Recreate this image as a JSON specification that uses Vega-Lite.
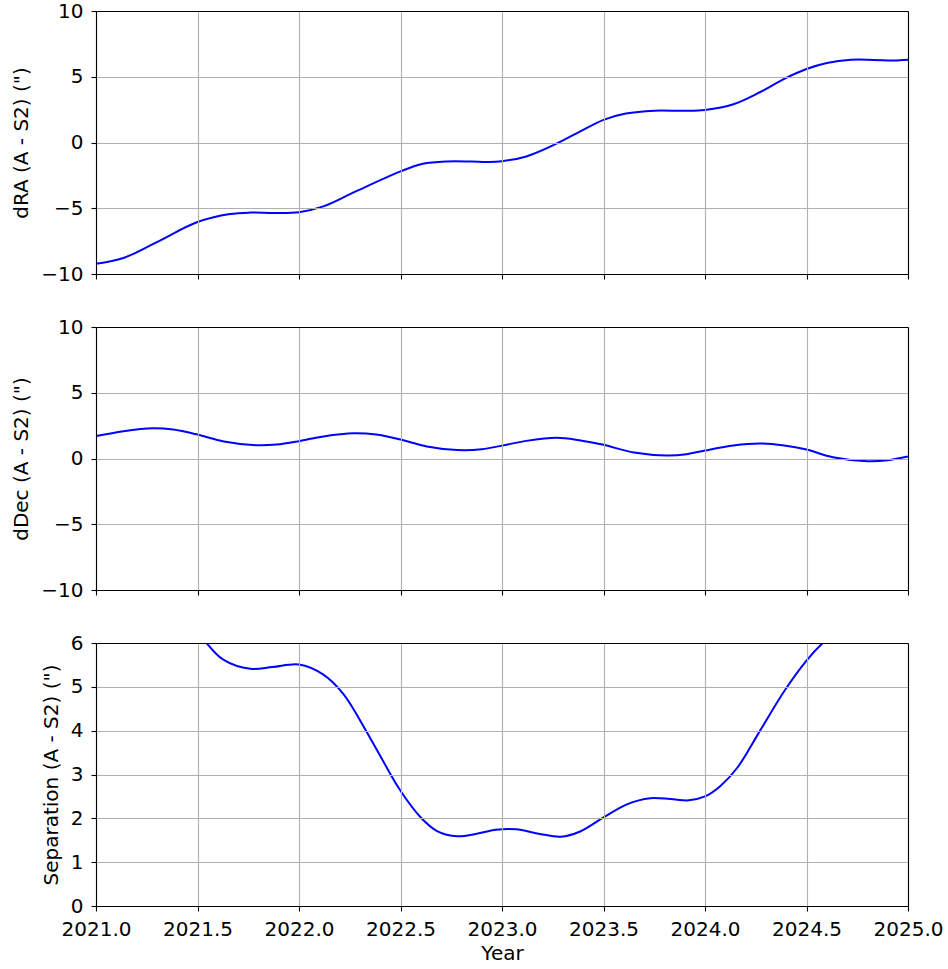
{
  "$schema": "https://vega.github.io/schema/vega-lite/v6.json",
  "padding": {"left": 11, "top": 1, "right": 0, "bottom": 0},
  "background": "white",
  "spacing": 53,
  "bounds": "flush",
  "datasets": {
    "dra": [
      {"year": 2021.0, "v": -9.22}, {"year": 2021.135, "v": -8.78}, {"year": 2021.3, "v": -7.57},
      {"year": 2021.5, "v": -6.05}, {"year": 2021.66, "v": -5.44}, {"year": 2021.76, "v": -5.33},
      {"year": 2021.88, "v": -5.36}, {"year": 2022.0, "v": -5.3}, {"year": 2022.12, "v": -4.86},
      {"year": 2022.28, "v": -3.72}, {"year": 2022.5, "v": -2.2}, {"year": 2022.61, "v": -1.62},
      {"year": 2022.73, "v": -1.44}, {"year": 2022.85, "v": -1.45}, {"year": 2022.93, "v": -1.48},
      {"year": 2023.0, "v": -1.42}, {"year": 2023.12, "v": -1.06}, {"year": 2023.24, "v": -0.3},
      {"year": 2023.37, "v": 0.71}, {"year": 2023.5, "v": 1.72}, {"year": 2023.61, "v": 2.2},
      {"year": 2023.75, "v": 2.42}, {"year": 2023.9, "v": 2.41}, {"year": 2024.0, "v": 2.48},
      {"year": 2024.14, "v": 2.91}, {"year": 2024.27, "v": 3.82}, {"year": 2024.39, "v": 4.84},
      {"year": 2024.5, "v": 5.59}, {"year": 2024.6, "v": 6.05}, {"year": 2024.72, "v": 6.29},
      {"year": 2024.83, "v": 6.28}, {"year": 2024.93, "v": 6.24}, {"year": 2025.0, "v": 6.3}
    ],
    "ddec": [
      {"year": 2021.0, "v": 1.7}, {"year": 2021.135, "v": 2.08}, {"year": 2021.28, "v": 2.3},
      {"year": 2021.38, "v": 2.2}, {"year": 2021.5, "v": 1.82}, {"year": 2021.63, "v": 1.3},
      {"year": 2021.79, "v": 1.01}, {"year": 2021.89, "v": 1.06}, {"year": 2022.0, "v": 1.32},
      {"year": 2022.12, "v": 1.68}, {"year": 2022.27, "v": 1.92}, {"year": 2022.38, "v": 1.82},
      {"year": 2022.5, "v": 1.44}, {"year": 2022.63, "v": 0.92}, {"year": 2022.78, "v": 0.64},
      {"year": 2022.9, "v": 0.7}, {"year": 2023.0, "v": 0.98}, {"year": 2023.12, "v": 1.34},
      {"year": 2023.27, "v": 1.57}, {"year": 2023.38, "v": 1.39}, {"year": 2023.5, "v": 1.04},
      {"year": 2023.65, "v": 0.45}, {"year": 2023.81, "v": 0.23}, {"year": 2023.91, "v": 0.33},
      {"year": 2024.0, "v": 0.61}, {"year": 2024.14, "v": 0.99}, {"year": 2024.27, "v": 1.14},
      {"year": 2024.39, "v": 0.99}, {"year": 2024.5, "v": 0.68}, {"year": 2024.63, "v": 0.1},
      {"year": 2024.8, "v": -0.2}, {"year": 2024.9, "v": -0.13}, {"year": 2025.0, "v": 0.15}
    ],
    "sep": [
      {"year": 2021.45, "v": 6.7}, {"year": 2021.545, "v": 6.0}, {"year": 2021.627, "v": 5.62},
      {"year": 2021.76, "v": 5.41}, {"year": 2021.87, "v": 5.45}, {"year": 2022.0, "v": 5.51},
      {"year": 2022.12, "v": 5.28}, {"year": 2022.22, "v": 4.83}, {"year": 2022.33, "v": 4.0},
      {"year": 2022.415, "v": 3.3}, {"year": 2022.5, "v": 2.63}, {"year": 2022.6, "v": 2.02},
      {"year": 2022.68, "v": 1.71}, {"year": 2022.78, "v": 1.59}, {"year": 2022.875, "v": 1.65},
      {"year": 2022.97, "v": 1.74}, {"year": 2023.07, "v": 1.75}, {"year": 2023.18, "v": 1.65},
      {"year": 2023.29, "v": 1.58}, {"year": 2023.385, "v": 1.7}, {"year": 2023.5, "v": 2.02},
      {"year": 2023.615, "v": 2.32}, {"year": 2023.73, "v": 2.46}, {"year": 2023.83, "v": 2.44},
      {"year": 2023.92, "v": 2.41}, {"year": 2024.0, "v": 2.5}, {"year": 2024.076, "v": 2.74},
      {"year": 2024.16, "v": 3.16}, {"year": 2024.27, "v": 3.99}, {"year": 2024.39, "v": 4.9},
      {"year": 2024.5, "v": 5.6}, {"year": 2024.58, "v": 6.0}, {"year": 2024.66, "v": 6.3}
    ]
  },
  "vconcat": [
    {
      "width": 812, "height": 263,
      "data": {"name": "dra"},
      "layer": [
        {
          "mark": {"type": "line", "color": "#0000ff", "strokeWidth": 2, "clip": true, "interpolate": "catmull-rom"},
          "encoding": {
            "x": {"field": "year", "type": "quantitative", "scale": {"domain": [2021, 2025], "nice": false, "zero": false},
              "axis": {"values": [2021, 2021.5, 2022, 2022.5, 2023, 2023.5, 2024, 2024.5, 2025], "labels": false, "title": null, "grid": true, "zindex": 1}},
            "y": {"field": "v", "type": "quantitative", "scale": {"domain": [-10, 10], "nice": false, "zero": false},
              "axis": {"values": [-10, -5, 0, 5, 10], "title": "dRA (A - S2) (\")", "grid": true, "zindex": 1}}
          }
        },
        {
          "mark": {"type": "line", "strokeOpacity": 0},
          "encoding": {
            "x": {"field": "year", "type": "quantitative", "scale": {"domain": [2021, 2025], "nice": false, "zero": false},
              "axis": {"orient": "top", "labels": false, "ticks": false, "grid": false, "title": null, "zindex": 1}},
            "y": {"field": "v", "type": "quantitative", "scale": {"domain": [-10, 10], "nice": false, "zero": false},
              "axis": {"orient": "right", "labels": false, "ticks": false, "grid": false, "title": null, "zindex": 1}}
          }
        }
      ],
      "resolve": {"axis": {"x": "independent", "y": "independent"}}
    },
    {
      "width": 812, "height": 263,
      "data": {"name": "ddec"},
      "layer": [
        {
          "mark": {"type": "line", "color": "#0000ff", "strokeWidth": 2, "clip": true, "interpolate": "catmull-rom"},
          "encoding": {
            "x": {"field": "year", "type": "quantitative", "scale": {"domain": [2021, 2025], "nice": false, "zero": false},
              "axis": {"values": [2021, 2021.5, 2022, 2022.5, 2023, 2023.5, 2024, 2024.5, 2025], "labels": false, "title": null, "grid": true, "zindex": 1}},
            "y": {"field": "v", "type": "quantitative", "scale": {"domain": [-10, 10], "nice": false, "zero": false},
              "axis": {"values": [-10, -5, 0, 5, 10], "title": "dDec (A - S2) (\")", "grid": true, "zindex": 1}}
          }
        },
        {
          "mark": {"type": "line", "strokeOpacity": 0},
          "encoding": {
            "x": {"field": "year", "type": "quantitative", "scale": {"domain": [2021, 2025], "nice": false, "zero": false},
              "axis": {"orient": "top", "labels": false, "ticks": false, "grid": false, "title": null, "zindex": 1}},
            "y": {"field": "v", "type": "quantitative", "scale": {"domain": [-10, 10], "nice": false, "zero": false},
              "axis": {"orient": "right", "labels": false, "ticks": false, "grid": false, "title": null, "zindex": 1}}
          }
        }
      ],
      "resolve": {"axis": {"x": "independent", "y": "independent"}}
    },
    {
      "width": 812, "height": 263,
      "data": {"name": "sep"},
      "layer": [
        {
          "mark": {"type": "line", "color": "#0000ff", "strokeWidth": 2, "clip": true, "interpolate": "catmull-rom"},
          "encoding": {
            "x": {"field": "year", "type": "quantitative", "scale": {"domain": [2021, 2025], "nice": false, "zero": false},
              "axis": {"values": [2021, 2021.5, 2022, 2022.5, 2023, 2023.5, 2024, 2024.5, 2025], "format": ".1f", "title": "Year", "titlePadding": 4, "grid": true, "zindex": 1}},
            "y": {"field": "v", "type": "quantitative", "scale": {"domain": [0, 6], "nice": false, "zero": false},
              "axis": {"values": [0, 1, 2, 3, 4, 5, 6], "title": "Separation (A - S2) (\")", "grid": true, "zindex": 1}}
          }
        },
        {
          "mark": {"type": "line", "strokeOpacity": 0},
          "encoding": {
            "x": {"field": "year", "type": "quantitative", "scale": {"domain": [2021, 2025], "nice": false, "zero": false},
              "axis": {"orient": "top", "labels": false, "ticks": false, "grid": false, "title": null, "zindex": 1}},
            "y": {"field": "v", "type": "quantitative", "scale": {"domain": [0, 6], "nice": false, "zero": false},
              "axis": {"orient": "right", "labels": false, "ticks": false, "grid": false, "title": null, "zindex": 1}}
          }
        }
      ],
      "resolve": {"axis": {"x": "independent", "y": "independent"}}
    }
  ],
  "config": {
    "font": "DejaVu Sans",
    "view": {"stroke": null},
    "axis": {
      "labelFont": "DejaVu Sans", "labelFontSize": 20, "labelColor": "#000000",
      "titleFont": "DejaVu Sans", "titleFontSize": 20, "titleFontWeight": "normal", "titleColor": "#000000",
      "domainColor": "#000000", "domainWidth": 1.1, "tickColor": "#000000", "tickWidth": 1.1, "tickSize": 5,
      "labelPadding": 8, "titlePadding": 9, "gridColor": "#b0b0b0", "gridWidth": 1.1, "gridOpacity": 1,
      "labelFlush": false, "labelOverlap": false
    }
  }
}
